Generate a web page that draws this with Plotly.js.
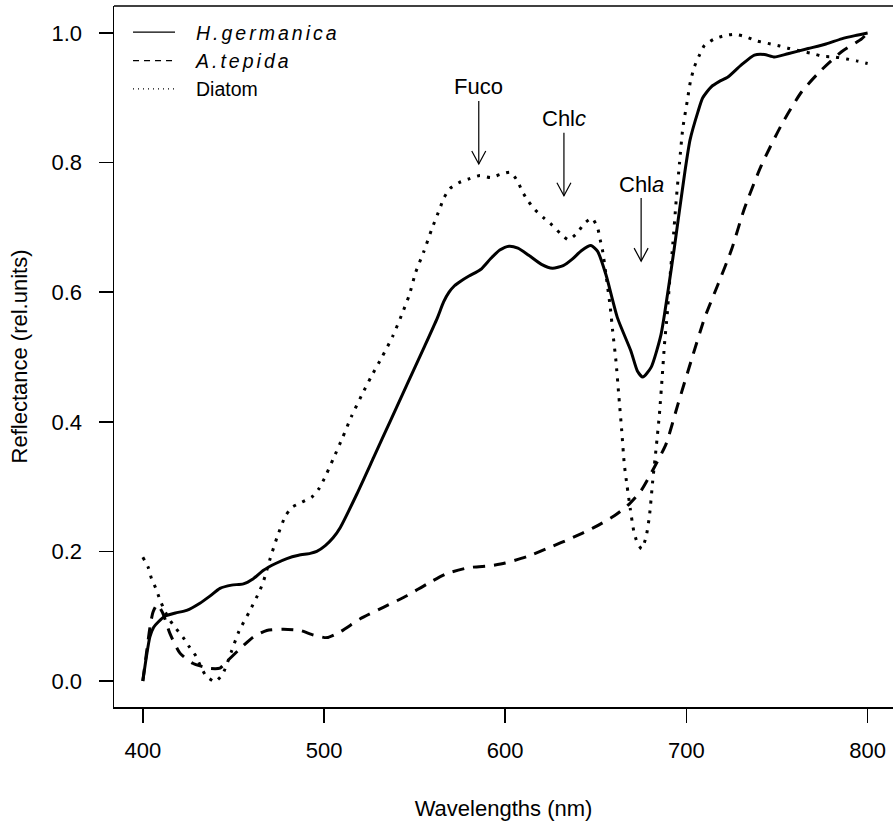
<!DOCTYPE html>
<html>
<head>
<meta charset="utf-8">
<script src="https://cdn.plot.ly/plotly-3.0.1.min.js"></script>
<style>
html,body{margin:0;padding:0;background:#fff;}
#chart{width:893px;height:821px;}
.legend .scrollbox{clip-path:none !important;}
.legendtext{transform:translate(16px,0);}
.legendtext tspan[style*="italic"]{letter-spacing:3px;}
</style>
</head>
<body>
<div id="chart"></div>
<script>
// H.germanica (solid)
const hgX = [400,402,403.9,406,408.5,412.2,418,424.2,431.5,437,442.6,449,455.5,461,466.6,473,479.5,486,492.4,496,500.7,505,509,518.2,527.4,536.7,545.9,555.1,562.5,566,569,572,575.4,580,586.4,592,597,602.1,607,613,620,626.1,632,637,642,647.3,651,655.6,662,669.4,673,675.9,680.5,686,690,693.2,698.9,702,706.3,709,713.7,718,722.9,730,737.5,743,748.6,756,767.2,777,785.6,793,800];
const hgY = [0,0.038,0.068,0.083,0.091,0.100,0.105,0.109,0.120,0.131,0.143,0.148,0.150,0.158,0.171,0.181,0.189,0.194,0.197,0.200,0.209,0.221,0.237,0.289,0.345,0.402,0.458,0.514,0.560,0.585,0.600,0.610,0.617,0.625,0.635,0.652,0.665,0.671,0.668,0.657,0.643,0.637,0.641,0.651,0.664,0.672,0.663,0.627,0.560,0.509,0.478,0.469,0.484,0.535,0.605,0.666,0.781,0.835,0.878,0.900,0.917,0.925,0.932,0.950,0.966,0.967,0.963,0.968,0.976,0.983,0.991,0.996,1.0];

// A.tepida (dashed)
const atX = [400,402,404,405.7,408,411,415,420.5,427.8,437,442.6,446.3,453.7,461,468.4,477.6,486.9,494.2,501.6,509,520,533,546,557,568,580,592,600,612,625.2,636.2,649.1,660.2,667.6,675,682.3,688.8,695.3,702.6,710,717.4,724.8,732.1,741.4,752.4,763.5,774.5,785.6,796.7,800];
const atY = [0,0.043,0.084,0.107,0.118,0.105,0.073,0.043,0.027,0.0195,0.020,0.030,0.050,0.068,0.078,0.080,0.078,0.071,0.067,0.076,0.096,0.114,0.132,0.150,0.166,0.175,0.178,0.182,0.192,0.207,0.220,0.237,0.255,0.271,0.294,0.330,0.366,0.427,0.494,0.560,0.612,0.665,0.730,0.796,0.858,0.909,0.943,0.971,0.991,1.0];

// Diatom (dotted)
const diX = [400,402.9,404.8,407.2,409.4,411.8,414.6,418.3,422.3,425.6,429.2,432,434.9,439.8,444.1,448.7,453.1,458.8,464.3,466.6,470.3,474,478.6,482.3,487.8,493.3,497,500.1,505.3,510.3,515.1,520.6,526.1,532.2,537.9,542.7,547.1,550.5,555.1,559.3,563.9,566.1,569.5,574.4,580,586,592,597.5,603,606.7,609.5,612.8,616.5,621.1,625.7,630.3,634.9,639.6,643.6,647.9,651,652.4,653.8,655.6,658,659.3,661.1,662.6,664.3,665.7,667.2,669,670.9,672.8,675.3,677.7,679.6,681.4,683.3,685.1,686.6,687.9,689.4,690.6,692.5,694.3,696.2,698,700.4,702.2,704.4,707.2,710,715.5,721,726.6,733,738.6,745,751.5,757,763.5,769.9,775.5,781.9,788.4,793.9,800];
const diY = [0.191,0.176,0.158,0.143,0.126,0.110,0.095,0.081,0.067,0.053,0.039,0.022,0.008,-0.001,0.011,0.044,0.077,0.107,0.138,0.154,0.189,0.221,0.254,0.268,0.276,0.284,0.296,0.312,0.344,0.376,0.408,0.440,0.470,0.501,0.532,0.564,0.596,0.630,0.663,0.696,0.729,0.745,0.760,0.769,0.775,0.780,0.777,0.782,0.785,0.772,0.755,0.740,0.727,0.715,0.704,0.691,0.681,0.691,0.706,0.714,0.699,0.681,0.663,0.627,0.576,0.540,0.494,0.443,0.386,0.335,0.302,0.266,0.232,0.214,0.204,0.222,0.255,0.309,0.360,0.412,0.468,0.520,0.566,0.612,0.675,0.740,0.800,0.853,0.894,0.925,0.948,0.966,0.981,0.991,0.996,0.998,0.994,0.988,0.984,0.980,0.976,0.972,0.968,0.964,0.963,0.960,0.957,0.953];

const seriesNames = ['<i>H.germanica</i>', '<i>A.tepida</i>', 'Diatom'];
const xTicks = [400, 500, 600, 700, 800];
const yTicks = [0, 0.2, 0.4, 0.6, 0.8, 1.0];

// pigment annotations: label, wavelength, reflectance at arrow tip
const pigLabels = ['Fuco', 'Chl<i>c</i>', 'Chl<i>a</i>'];
const pigX = [585.4, 632.4, 675];
const pigY = [0.798, 0.749, 0.648];

const FONT = 'Liberation Sans, Arial, Helvetica, sans-serif';

const traces = [
  {x: hgX, y: hgY, mode: 'lines', line: {color: '#000', width: 3, shape: 'spline', smoothing: 0.6}, showlegend: false, hoverinfo: 'skip'},
  {x: atX, y: atY, mode: 'lines', line: {color: '#000', width: 3, dash: '12px,9px', shape: 'spline', smoothing: 0.6}, showlegend: false, hoverinfo: 'skip'},
  {x: diX, y: diY, mode: 'lines', line: {color: '#000', width: 3, dash: '3px,7px', shape: 'spline', smoothing: 0.6}, showlegend: false, hoverinfo: 'skip'},
  {x: [null], y: [null], mode: 'lines', name: seriesNames[0], line: {color: '#000', width: 1.2}},
  {x: [null], y: [null], mode: 'lines', name: seriesNames[1], line: {color: '#000', width: 1.2, dash: '6px,5px'}},
  {x: [null], y: [null], mode: 'lines', name: seriesNames[2], line: {color: '#000', width: 1.2, dash: '1px,4px'}}
];

const annotations = pigLabels.map((t, i) => ({
  x: pigX[i], y: pigY[i], xref: 'x', yref: 'y', text: t,
  showarrow: true, arrowhead: 0, arrowwidth: 1.2, arrowcolor: '#000',
  ax: 0, ay: -77, font: {family: FONT, size: 22, color: '#000'}
}));

const shapes = pigLabels.map((t, i) => ({
  type: 'path', xref: 'x', yref: 'y', xsizemode: 'pixel', ysizemode: 'pixel',
  xanchor: pigX[i], yanchor: pigY[i], path: 'M-7,13 L0,0 L7,13',
  line: {color: '#000', width: 1.2}
}));
shapes.push({type: 'line', xref: 'paper', yref: 'paper', x0: 0, x1: 1, y0: 1, y1: 1, line: {color: '#000', width: 1.5}});

const layout = {
  width: 893, height: 821,
  margin: {l: 114, r: 0, t: 6, b: 114},
  paper_bgcolor: '#fff', plot_bgcolor: '#fff',
  font: {family: FONT, size: 22, color: '#000'},
  xaxis: {
    range: [384.1, 814], tickvals: xTicks, ticktext: xTicks.map(String),
    showgrid: false, zeroline: false, showline: true, linecolor: '#000', linewidth: 1.5,
    ticks: 'outside', ticklen: 14, tickwidth: 1.5, tickcolor: '#000', ticklabelstandoff: 9,
    tickfont: {family: FONT, size: 22},
    title: {text: 'Wavelengths (nm)', font: {family: FONT, size: 22}, standoff: 38}
  },
  yaxis: {
    range: [-0.0401, 1.0417], tickvals: yTicks, ticktext: yTicks.map(v => v.toFixed(1)),
    showgrid: false, zeroline: false, showline: true, linecolor: '#000', linewidth: 1.5,
    ticks: 'outside', ticklen: 14, tickwidth: 1.5, tickcolor: '#000', ticklabelstandoff: 12,
    tickfont: {family: FONT, size: 22},
    title: {text: 'Reflectance (rel.units)', font: {family: FONT, size: 22}, standoff: 18}
  },
  showlegend: true,
  legend: {x: 0.018, y: 0.99, xanchor: 'left', yanchor: 'top', bgcolor: 'rgba(0,0,0,0)', borderwidth: 0,
           itemwidth: 42, font: {family: FONT, size: 19.5, color: '#000'}, tracegroupgap: 0},
  annotations: annotations,
  shapes: shapes
};

Plotly.newPlot('chart', traces, layout, {displayModeBar: false, staticPlot: true});
</script>
</body>
</html>
